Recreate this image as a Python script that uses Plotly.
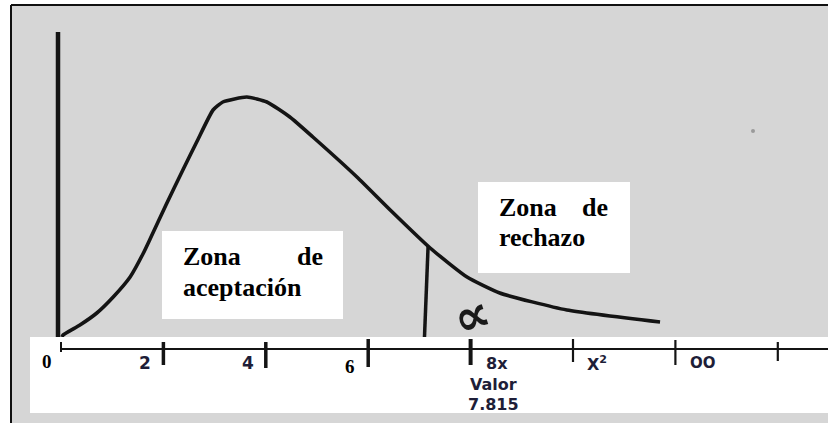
import plotly.graph_objects as go

# ---------------- data ----------------
curve_x = [0.02, 0.04, 0.37, 0.70, 1.02, 1.35, 1.60, 1.74, 2.05, 2.38, 2.66, 2.97,
           3.16, 3.63, 4.02, 4.47, 4.92, 5.78, 6.43, 7.21, 7.93, 8.57, 9.88, 11.70]
curve_y = [0.012, 0.014, 0.024, 0.036, 0.052, 0.072, 0.095, 0.110, 0.144, 0.179, 0.208, 0.239,
           0.247, 0.252, 0.247, 0.232, 0.212, 0.172, 0.139, 0.101, 0.072, 0.056, 0.039, 0.027]
tick_values = [0, 2, 4, 6, 8, 10, 12, 14]
tick_labels = ["0", "2", "4", "6", "8x", "X<sup>2</sup>", "OO", ""]
critical_label = ["Valor", "7.815"]
critical_line_x = 7.17
y_axis_top = 0.317
zone_accept = ["Zona", "de", "aceptación"]
zone_reject = ["Zona", "de", "rechazo"]
alpha_symbol = "∝"

# ---------------- layout helpers ----------------
W, H = 828, 423
X0_PX, X_UNIT_PX = 61, 51.2          # pixel of x=0, pixels per unit
Y0_PX, Y_UNIT_PX = 349, 1000         # pixel of y=0, pixels per unit
x_range = [-X0_PX / X_UNIT_PX, (W - X0_PX) / X_UNIT_PX]
y_range = [(Y0_PX - H) / Y_UNIT_PX, Y0_PX / Y_UNIT_PX]


def pxx(p):
    return p / W


def pxy(p):
    return 1 - p / H


def interp(x, xs, ys):
    for i in range(len(xs) - 1):
        if xs[i] <= x <= xs[i + 1]:
            t = (x - xs[i]) / (xs[i + 1] - xs[i])
            return ys[i] + t * (ys[i + 1] - ys[i])
    return ys[-1]


GRAY = "#d6d6d6"
INK = "#141414"
LABEL = "#1e1e38"

fig = go.Figure()
fig.add_trace(go.Scatter(
    x=curve_x, y=curve_y, mode="lines",
    line=dict(color=INK, width=3.6, shape="spline", smoothing=0.5),
    hoverinfo="skip", showlegend=False))

shapes = []
# gray page background and border
shapes.append(dict(type="rect", xref="paper", yref="paper", layer="below",
                   x0=pxx(11), x1=1.01, y0=-0.01, y1=pxy(5),
                   fillcolor=GRAY, line=dict(width=0)))
shapes.append(dict(type="line", xref="paper", yref="paper", layer="above",
                   x0=pxx(11), x1=1.01, y0=pxy(5), y1=pxy(5),
                   line=dict(color="#111111", width=2)))
shapes.append(dict(type="line", xref="paper", yref="paper", layer="above",
                   x0=pxx(11), x1=pxx(11), y0=-0.01, y1=pxy(5),
                   line=dict(color="#111111", width=2)))
# vertical axis (hand drawn)
shapes.append(dict(type="line", xref="x", yref="y", layer="below",
                   x0=-3 / X_UNIT_PX, x1=-3 / X_UNIT_PX, y0=0, y1=y_axis_top,
                   line=dict(color=INK, width=4.5)))
# critical value line
crit_top = interp(critical_line_x, curve_x, curve_y)
shapes.append(dict(type="line", xref="x", yref="y", layer="below",
                   x0=critical_line_x, x1=critical_line_x - 0.08, y0=crit_top, y1=0,
                   line=dict(color=INK, width=3.5)))
# white band holding the axis
shapes.append(dict(type="rect", xref="paper", yref="paper", layer="above",
                   x0=pxx(30), x1=1.01, y0=pxy(413), y1=pxy(337),
                   fillcolor="white", line=dict(width=0)))
# axis line
shapes.append(dict(type="line", xref="x", yref="paper", layer="above",
                   x0=0, x1=x_range[1] + 1, y0=pxy(349), y1=pxy(349),
                   line=dict(color=INK, width=2)))
# ticks (hand drawn: individual heights / widths)
tick_style = [(342, 352, 2), (342, 365, 3.5), (342, 368, 3.5), (339, 367, 3.5),
              (339, 365, 4), (339, 362, 2.2), (340, 365, 2.2), (342, 361, 2.2)]
for v, (t0, t1, w) in zip(tick_values, tick_style):
    shapes.append(dict(type="line", xref="x", yref="paper", layer="above",
                       x0=v, x1=v, y0=pxy(t1), y1=pxy(t0),
                       line=dict(color=INK, width=w)))
# white text boxes
shapes.append(dict(type="rect", xref="paper", yref="paper", layer="above",
                   x0=pxx(162), x1=pxx(343), y0=pxy(319), y1=pxy(231),
                   fillcolor="white", line=dict(width=0)))
shapes.append(dict(type="rect", xref="paper", yref="paper", layer="above",
                   x0=pxx(478), x1=pxx(630), y0=pxy(273), y1=pxy(182),
                   fillcolor="white", line=dict(width=0)))
# small scan speck
shapes.append(dict(type="circle", xref="paper", yref="paper", layer="above",
                   x0=pxx(751), x1=pxx(755), y0=pxy(133), y1=pxy(129),
                   fillcolor="#9a9a9a", line=dict(width=0)))

annotations = []


def txt(text, x, y, size, family, color, xanchor="center", weight="bold", angle=0):
    annotations.append(dict(
        text=text, x=pxx(x), y=pxy(y), xref="paper", yref="paper",
        xanchor=xanchor, yanchor="middle", showarrow=False, textangle=angle,
        font=dict(size=size, family=family, color=color, weight=weight),
        borderpad=0))


SERIF = "Liberation Serif"
SANS = "DejaVu Sans"
ZS = 26
# Zona de aceptación
txt(zone_accept[0], 182, 265 - 0.34 * ZS, ZS, SERIF, "black", "left")
txt(zone_accept[1], 324, 265 - 0.34 * ZS, ZS, SERIF, "black", "right")
txt(zone_accept[2], 182, 296 - 0.34 * ZS, ZS, SERIF, "black", "left")
# Zona de rechazo
txt(zone_reject[0], 498, 216 - 0.34 * ZS, ZS, SERIF, "black", "left")
txt(zone_reject[1], 609, 216 - 0.34 * ZS, ZS, SERIF, "black", "right")
txt(zone_reject[2], 498, 246 - 0.34 * ZS, ZS, SERIF, "black", "left")

# tick labels (positions relative to tick pixel)
LS = 17
label_pos = [
    (-14, 368, SERIF, 19, "black", "center"),
    (-18, 369, SANS, LS, LABEL, "center"),
    (-18, 369, SANS, LS, LABEL, "center"),
    (-18, 373, SERIF, 19, "black", "center"),
    (14, 369, SANS, 16, LABEL, "left"),
    (13, 369, SANS, 16, LABEL, "left"),
    (14, 368, SANS, 15, LABEL, "left"),
    (0, 369, SANS, LS, LABEL, "center"),
]
for v, lab, (dx, base, fam, sz, col, anc) in zip(tick_values, tick_labels, label_pos):
    if lab:
        xp = X0_PX + v * X_UNIT_PX + dx
        txt(lab, xp, base - 0.35 * sz, sz, fam, col, anc)
crit_px = X0_PX + 8 * X_UNIT_PX
txt(critical_label[0], crit_px + 23, 390 - 0.35 * 16, 16, SANS, LABEL)
txt(critical_label[1], crit_px + 23, 410 - 0.35 * 16, 16, SANS, LABEL)
# alpha (hand written)
txt(alpha_symbol, 472, 316, 50, SANS, "#1a1a1a", "center", weight="bold", angle=-18)

fig.update_layout(
    width=W, height=H, autosize=False,
    margin=dict(l=0, r=0, t=0, b=0),
    paper_bgcolor="white", plot_bgcolor="rgba(0,0,0,0)",
    xaxis=dict(range=x_range, visible=False, fixedrange=True),
    yaxis=dict(range=y_range, visible=False, fixedrange=True),
    shapes=shapes, annotations=annotations, showlegend=False)

fig.write_html(
    "out.html",
    config={"displayModeBar": False, "staticPlot": True},
    post_script="document.body.style.margin='0';document.body.style.padding='0';")
